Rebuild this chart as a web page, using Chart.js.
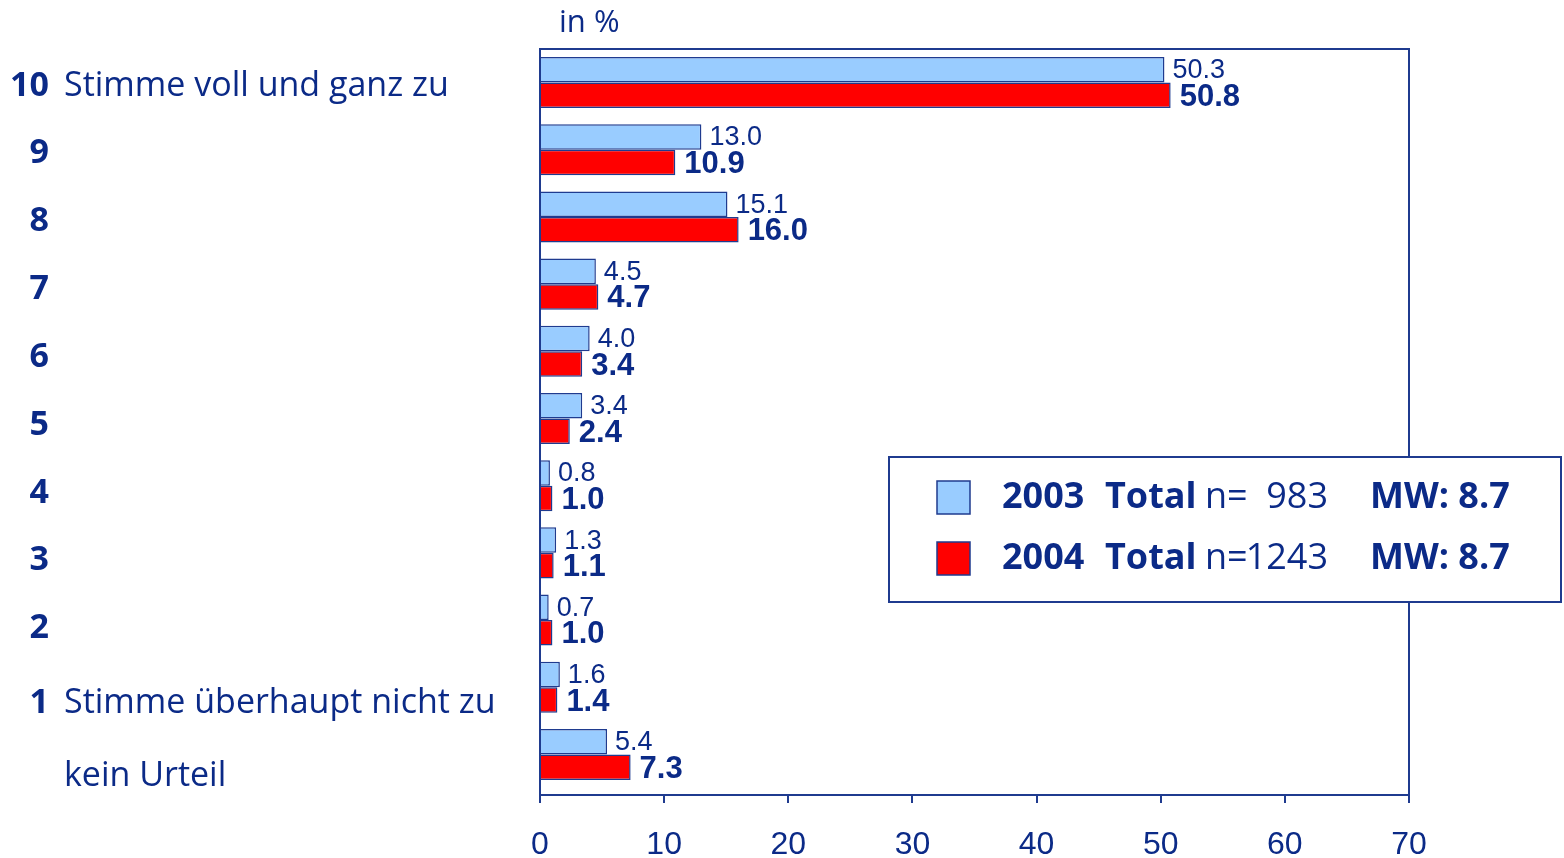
<!DOCTYPE html>
<html>
<head>
<meta charset="utf-8">
<script src="https://cdn.jsdelivr.net/npm/chart.js@4"></script>
<style>
  html, body { margin: 0; padding: 0; background: #fff; }
</style>
</head>
<body>
<canvas id="chart" width="1564" height="858"></canvas>
<script>
// Zustimmung 2003 vs 2004, in %
const categories = ['10', '9', '8', '7', '6', '5', '4', '3', '2', '1', ''];
const sideTexts = ['Stimme voll und ganz zu', '', '', '', '', '', '', '', '', 'Stimme überhaupt nicht zu', 'kein Urteil'];
const values2003 = [50.3, 13.0, 15.1, 4.5, 4.0, 3.4, 0.8, 1.3, 0.7, 1.6, 5.4];
const values2004 = [50.8, 10.9, 16.0, 4.7, 3.4, 2.4, 1.0, 1.1, 1.0, 1.4, 7.3];
const xMin = 0;
const xMax = 70;
const xStep = 10;
const legendYears = ['2003', '2004'];
const legendCounts = ['983', '1243'];
const legendMeans = ['MW: 8.7', 'MW: 8.7'];

const NAVY = '#0b2a87';
const LINE = '#1f3b8f';
const SANS = '"Open Sans", "Noto Sans", sans-serif';
const ARIAL = '"Liberation Sans", Arial, sans-serif';

// the original leaves a small gap between the last band and the axis
const bottomGap = 7;
// the last two row labels sit a bit lower than their bars
const labelShift = [0, 0, 0, 0, 0, 0, 0, 0, 0, 7, 12];

const decorations = {
  id: 'decorations',
  afterLayout(chart) {
    const y = chart.scales.y;
    y._length -= bottomGap;
  },
  afterDatasetsDraw(chart) {
    const ctx = chart.ctx;
    const area = chart.chartArea;
    const n = categories.length;
    ctx.save();

    // value labels
    chart.data.datasets.forEach((ds, di) => {
      const meta = chart.getDatasetMeta(di);
      meta.data.forEach((bar, i) => {
        ctx.fillStyle = NAVY;
        ctx.textBaseline = 'middle';
        ctx.textAlign = 'left';
        if (di === 0) {
          ctx.font = '27px ' + ARIAL;
          ctx.fillText(ds.data[i].toFixed(1), bar.x + 8, bar.y + 1);
        } else {
          ctx.font = 'bold 31px ' + ARIAL;
          ctx.fillText(ds.data[i].toFixed(1), bar.x + 9, bar.y + 2);
        }
      });
    });

    // category labels on the left
    categories.forEach((c, i) => {
      const py = area.top + (area.bottom - area.top) * (i + 0.5) / n + 3 + labelShift[i];
      ctx.fillStyle = NAVY;
      ctx.textBaseline = 'middle';
      ctx.textAlign = 'right';
      ctx.font = 'bold 34px ' + SANS;
      ctx.fillText(c, 49, py);
      ctx.textAlign = 'left';
      ctx.font = '34px ' + SANS;
      ctx.fillText(sideTexts[i], 64, py);
    });

    // frame top + right
    ctx.strokeStyle = LINE;
    ctx.lineWidth = 2;
    ctx.beginPath();
    ctx.moveTo(area.left, area.top);
    ctx.lineTo(area.right, area.top);
    ctx.lineTo(area.right, area.bottom);
    ctx.stroke();

    // unit
    ctx.fillStyle = NAVY;
    ctx.font = '31px ' + SANS;
    ctx.textAlign = 'left';
    ctx.textBaseline = 'middle';
    ctx.fillText('in %', 559, 23);

    // legend box
    ctx.fillStyle = '#fff';
    ctx.fillRect(889, 457, 672, 145);
    ctx.strokeRect(889, 457, 672, 145);
    chart.data.datasets.forEach((ds, di) => {
      const rowY = 498 + di * 61;
      ctx.fillStyle = ds.backgroundColor;
      ctx.fillRect(937, rowY - 17, 33, 33);
      ctx.lineWidth = 1.5;
      ctx.strokeRect(937, rowY - 17, 33, 33);
      ctx.fillStyle = NAVY;
      ctx.textBaseline = 'middle';
      ctx.textAlign = 'left';
      ctx.font = 'bold 36px ' + SANS;
      ctx.fillText(legendYears[di], 1002, rowY);
      ctx.fillText('Total', 1105, rowY);
      ctx.fillText(legendMeans[di], 1370, rowY);
      ctx.font = '36px ' + SANS;
      ctx.fillText('n=', 1205, rowY);
      ctx.textAlign = 'right';
      ctx.fillText(legendCounts[di], 1328, rowY);
    });
    ctx.restore();
  }
};

new Chart(document.getElementById('chart'), {
  type: 'bar',
  data: {
    labels: categories,
    datasets: [
      {
        label: '2003',
        data: values2003,
        backgroundColor: '#99ccff',
        borderColor: LINE,
        borderWidth: 1.5,
        categoryPercentage: 0.76,
        barPercentage: 1
      },
      {
        label: '2004',
        data: values2004,
        backgroundColor: '#ff0000',
        borderColor: LINE,
        borderWidth: 1.5,
        categoryPercentage: 0.76,
        barPercentage: 1
      }
    ]
  },
  options: {
    indexAxis: 'y',
    responsive: false,
    animation: false,
    layout: { padding: { left: 540, top: 49, right: 155, bottom: 0 } },
    plugins: { legend: { display: false }, tooltip: { enabled: false } },
    scales: {
      x: {
        min: xMin,
        max: xMax,
        ticks: {
          stepSize: xStep,
          color: NAVY,
          font: { family: ARIAL, size: 32 },
          padding: 23,
          maxRotation: 0
        },
        grid: { drawOnChartArea: false, tickLength: 8, color: LINE, lineWidth: 2 },
        border: { display: true, color: LINE, width: 2 },
        afterFit: s => { s.height = 63; }
      },
      y: {
        ticks: { display: false },
        grid: { display: false },
        border: { display: true, color: LINE, width: 2 },
        afterFit: s => { s.width = 0; }
      }
    }
  },
  plugins: [decorations]
});
</script>
</body>
</html>
